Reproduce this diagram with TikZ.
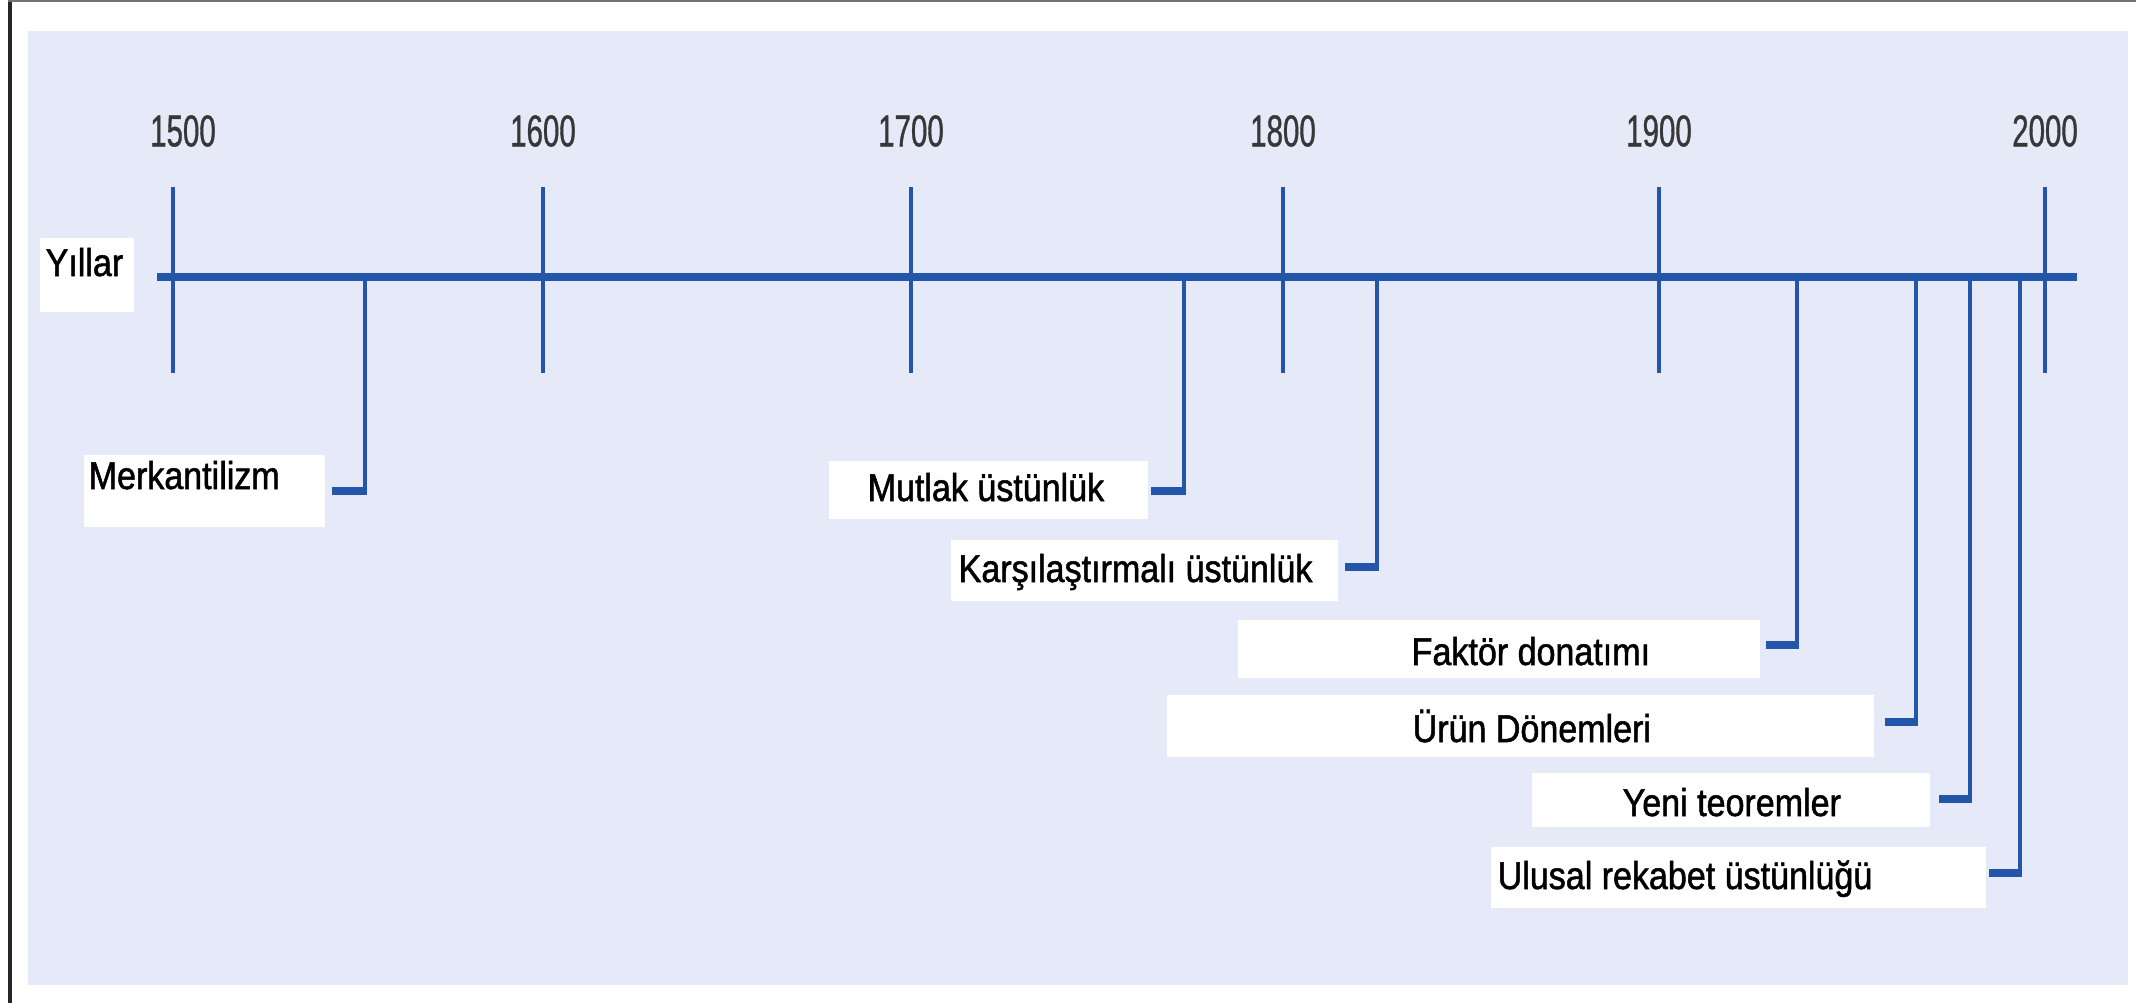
\documentclass[tikz,border=0pt]{standalone}
\usepackage{fontspec}
\setmainfont{Liberation Sans}
\newfontfamily\labfont{Liberation Sans}[FakeStretch=0.88,FakeBold=1.3]
\newfontfamily\yearfont{Liberation Sans}[FakeStretch=0.66,FakeBold=0.8]
\definecolor{bgpat}{RGB}{229,233,248}
\definecolor{lineblue}{RGB}{35,85,170}
\definecolor{yeargray}{RGB}{55,55,55}
\tikzset{
  lab/.style={anchor=base west, inner sep=0pt, font=\labfont\fontsize{11}{13}\selectfont, text=black},
  yearlab/.style={anchor=center, inner sep=0pt, font=\yearfont\fontsize{12.7}{14}\selectfont, text=yeargray},
  whitebox/.style={fill=white, draw=none},
  axisline/.style={draw=lineblue, line width=0.08cm},
  tickline/.style={draw=lineblue, line width=0.042cm},
  leader/.style={draw=lineblue, line width=0.045cm},
  stub/.style={draw=lineblue, line width=0.075cm}
}
\begin{document}
\begin{tikzpicture}[x=0.01cm, y=-0.01cm]
\useasboundingbox (0,0) rectangle (2141,1003);
\fill[white] (0,0) rectangle (2141,1003);
% patterned background area
\fill[bgpat] (28,31) rectangle (2128,985);
% frame lines
\fill[black!85] (8,0) rectangle (12,1003);
\fill[black!55] (8,0) rectangle (2136,2.5);

% white label backgrounds
\fill[whitebox] (40,238) rectangle (134,312);
\fill[whitebox] (84,455) rectangle (325,527);
\fill[whitebox] (829,461) rectangle (1148,519);
\fill[whitebox] (951,540) rectangle (1338,601);
\fill[whitebox] (1238,620) rectangle (1760,678);
\fill[whitebox] (1167,695) rectangle (1874,757);
\fill[whitebox] (1532,773) rectangle (1930,827);
\fill[whitebox] (1491,847) rectangle (1986,908);

% axis
\coordinate (axL) at (157,277);
\coordinate (axR) at (2077,277);
\draw[axisline] (axL) -- (axR);

% ticks and years
\foreach \n/\x/\dx in {1500/173/10, 1600/543/0, 1700/911/0, 1800/1283/0, 1900/1659/0, 2000/2045/0}{
  \coordinate (t\n a) at (\x,187);
  \coordinate (t\n b) at (\x,373);
  \draw[tickline] (t\n a) -- (t\n b);
  \node[yearlab] (y\n) at (\x+\dx,131) {\n};
}

\node[lab] (yillar) at (45,276) {Yıllar};

% labels
\node[lab] (merk) at (88,489) {Merkantilizm};
\node[lab] (mutlak) at (867,501) {Mutlak üstünlük};
\node[lab] (kars) at (958,582) {Karşılaştırmalı üstünlük};
\node[lab] (faktor) at (1411,665) {Faktör donatımı};
\node[lab] (urun) at (1412,742) {Ürün Dönemleri};
\node[lab] (yeni) at (1622,816) {Yeni teoremler};
\node[lab] (ulusal) at (1497,889) {Ulusal rekabet üstünlüğü};

% leaders: axis point -> corner -> free end
\foreach \id/\x/\y/\e in {m/365/491/332, mu/1184/491/1151, k/1377/567/1345, f/1797/645/1766, u/1916/722/1885, ye/1970/799/1939, ul/2020/873/1989}{
  \coordinate (\id0) at (\x,277);
  \coordinate (\id1) at (\x,\y);
  \coordinate (\id2) at (\e,\y);
  \draw[leader] (\id0) -- (\id1);
  \draw[stub] (\id1) ++(1.5,0) -- (\id2);
}
\end{tikzpicture}
\end{document}
